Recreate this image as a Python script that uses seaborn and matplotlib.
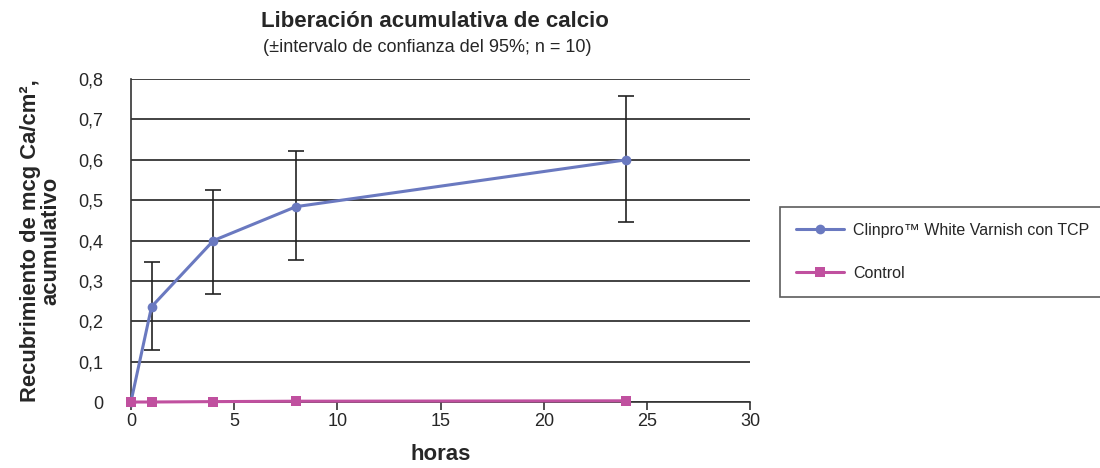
import numpy as np
import pandas as pd
import matplotlib
matplotlib.use("Agg")
import matplotlib.pyplot as plt
from matplotlib.ticker import FuncFormatter
import seaborn as sns

# Data
horas = [0, 1, 4, 8, 24]
clinpro = [0.0, 0.236, 0.400, 0.484, 0.600]
clinpro_sup = [0.0, 0.348, 0.525, 0.623, 0.758]
clinpro_inf = [0.0, 0.130, 0.267, 0.353, 0.447]
control = [0.0, 0.0, 0.001, 0.002, 0.003]
series = ["Clinpro\u2122 White Varnish con TCP", "Control"]

sns.set_theme(style="white")
plt.rcParams["font.family"] = ["Liberation Sans", "DejaVu Sans"]

df = pd.DataFrame({
    "horas": horas * 2,
    "valor": clinpro + control,
    "serie": [series[0]] * len(horas) + [series[1]] * len(horas),
})

fig = plt.figure(figsize=(11, 4.68), dpi=100)
ax = fig.add_axes([0.119, 0.141, 0.563, 0.690])

blue = "#6A79C0"
pink = "#C0509F"

sns.lineplot(data=df, x="horas", y="valor", hue="serie", style="serie",
             palette=[blue, pink], markers=["o", "s"], dashes=False,
             markersize=7, linewidth=2.2, markeredgewidth=0, ax=ax, legend=True)
for ln in ax.get_lines():
    ln.set_clip_on(False)
    ln.set_zorder(4)

err_lo = np.array(clinpro) - np.array(clinpro_inf)
err_hi = np.array(clinpro_sup) - np.array(clinpro)
ax.errorbar(horas[1:], clinpro[1:], yerr=[err_lo[1:], err_hi[1:]], fmt="none",
            ecolor="#222222", elinewidth=1.2, capsize=6, capthick=1.2, zorder=3)

ax.set_xlim(0, 30)
ax.set_ylim(0, 0.8)
ax.set_xticks(range(0, 31, 5))
ax.set_yticks(np.arange(0, 0.81, 0.1))
ax.yaxis.set_major_formatter(FuncFormatter(lambda v, p: "0" if abs(v) < 1e-9 else f"{v:.1f}".replace(".", ",")))
ax.grid(axis="y", color="#222222", linewidth=1.2)
ax.set_axisbelow(True)
for s in ["top", "right"]:
    ax.spines[s].set_visible(False)
for s in ["left", "bottom"]:
    ax.spines[s].set_color("#333333")
    ax.spines[s].set_linewidth(1.2)
ax.tick_params(axis="x", bottom=True, length=6, width=1.2, color="#333333", labelsize=13, pad=2)
ax.tick_params(axis="y", left=False, labelsize=13, pad=14)

ax.set_xlabel("horas", fontsize=16, fontweight="bold", labelpad=10)
ax.set_ylabel("Recubrimiento de mcg Ca/cm\u00b2,\nacumulativo", fontsize=15.8,
              fontweight="bold", labelpad=12, linespacing=0.95)

fig.text(0.395, 0.955, "Liberación acumulativa de calcio", ha="center", va="center",
         fontsize=16, fontweight="bold")
fig.text(0.388, 0.898, "(\u00b1intervalo de confianza del 95%; n = 10)", ha="center",
         va="center", fontsize=13)

handles, labels = ax.get_legend_handles_labels()
ax.get_legend().remove()
leg = fig.legend(handles, labels, loc="upper left", bbox_to_anchor=(0.709, 0.558),
                 frameon=True, fancybox=False, fontsize=11.5, borderpad=1.0,
                 labelspacing=1.75, handlelength=3.0, handletextpad=0.6,
                 borderaxespad=0)
leg.get_frame().set_edgecolor("#333333")
leg.get_frame().set_linewidth(1.2)

fig.savefig("out.png", dpi=100)
